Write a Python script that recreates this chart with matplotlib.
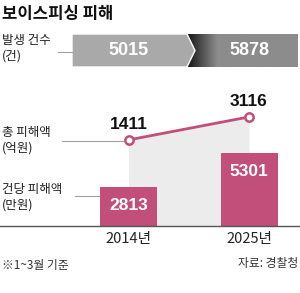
import numpy as np
import matplotlib.pyplot as plt
from matplotlib.colors import LinearSegmentedColormap
from matplotlib.patches import Polygon
from matplotlib.lines import Line2D

years = ['2014년', '2025년']
cases = [5015, 5878]          # 발생 건수 (건)
total_loss = [1411, 3116]     # 총 피해액 (억원)
per_case = [2813, 5301]       # 건당 피해액 (만원)

PINK = '#c24f7a'
KR = ['Noto Sans CJK KR', 'DejaVu Sans']
NUM = ['Liberation Sans', 'Noto Sans CJK KR', 'DejaVu Sans']

fig = plt.figure(figsize=(3, 2.93), dpi=100)


def fx(px):
    return px / 300


def fy(py):
    return 1 - py / 293


def d(px):
    # pixel column -> data x used by the axes below
    return (px - 128.5) / 120.5


x = np.arange(len(years))
xlim = (d(0), d(300))

# --- main panel: bars + line share the same x positions
rect = [0, fy(226), 1, (226 - 30) / 293]
ax2 = fig.add_axes(rect, zorder=1)
ax = fig.add_axes(rect, zorder=2)
ax.patch.set_alpha(0)

ax2.set_xlim(xlim)
ax2.set_ylim(-4970, 9560)
ax2.fill_between(x, total_loss, -4970, color='#ececec', lw=0)
ax2.plot(x, total_loss, color=PINK, lw=2, marker='o', ms=6,
         mfc='white', mec=PINK, mew=1.8)
for xi, v in zip(x, total_loss):
    ax2.annotate(f'{v}', (xi, v), xytext=(0, 6), textcoords='offset points',
                 ha='center', va='bottom', fontsize=12.5, weight='bold',
                 family=NUM, color='#111')
ax2.axis('off')

ax.bar(x, per_case, width=57 / 120.5, color=PINK)
ax.set_xlim(xlim)
ax.set_ylim(0, 5301 * 196 / 73)
for xi, v in zip(x, per_case):
    ax.annotate(f'{v}', (xi, v), xytext=(0, -13), textcoords='offset points',
                ha='center', va='center', fontsize=12.5, weight='bold',
                family=NUM, color='white')
for s in ['top', 'left', 'right']:
    ax.spines[s].set_visible(False)
ax.spines['bottom'].set_color('#555')
ax.spines['bottom'].set_linewidth(1)
ax.set_yticks([])
ax.set_xticks(x, years, family=KR, fontsize=10.5, color='#222')
ax.tick_params(axis='x', length=0, pad=4)

# --- top band: 발생 건수
axt = fig.add_axes([0, fy(67), 1, (67 - 34) / 293])
grad = LinearSegmentedColormap.from_list(
    'g', [(0, '#141414'), (0.27, '#8c8c8c'), (1, '#8c8c8c')])
axt.imshow(np.linspace(0, 1, 256)[None, :], cmap=grad, aspect='auto',
           extent=[d(187), d(298), 0, 1])
axt.add_patch(Polygon([(d(72), 0), (d(72), 1), (d(187), 1), (d(195), 0.5),
                       (d(187), 0)], closed=True, facecolor='#a9a9a9',
                      edgecolor='white', lw=1))
for xi, v in zip(x, cases):
    axt.text(xi, 0.5, f'{v}', ha='center', va='center', fontsize=13,
             weight='bold', family=NUM, color='white')
axt.set_xlim(xlim)
axt.set_ylim(0, 1)
axt.axis('off')

# --- texts
fig.text(fx(2), fy(14), '보이스피싱 피해', fontsize=12, weight='bold',
         family=KR, va='center', color='#111')
labels = [('발생 건수\n(건)', 48.5), ('총 피해액\n(억원)', 140),
          ('건당 피해액\n(만원)', 197.5)]
for txt, py in labels:
    fig.text(fx(2), fy(py), txt, fontsize=9, family=KR, va='center',
             linespacing=1.25, color='#222')

for x0, x1, py in [(58, 72, 52), (62, 123, 141), (75, 100, 196)]:
    fig.add_artist(Line2D([fx(x0), fx(x1)], [fy(py), fy(py)],
                          color='#a0a0a0', lw=0.8))

fig.text(fx(2), fy(266), '※1~3월 기준', fontsize=8.5, family=KR,
         va='center', color='#333')
fig.text(fx(298), fy(264), '자료: 경찰청', fontsize=8.5, family=KR,
         va='center', ha='right', color='#333')

fig.savefig('out.png', dpi=100)
